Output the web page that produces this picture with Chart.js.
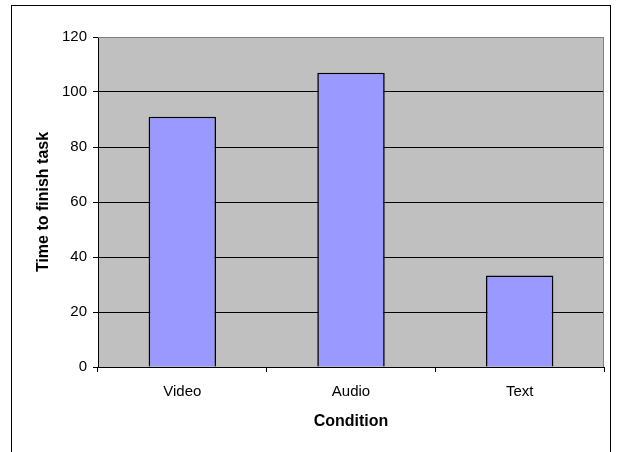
<!DOCTYPE html>
<html>
<head>
<meta charset="utf-8">
<script src="https://cdn.jsdelivr.net/npm/chart.js@4/dist/chart.umd.min.js"></script>
<style>
  html, body { margin: 0; padding: 0; background: #fff; }
  #wrap { width: 617px; height: 452px; position: relative; }
</style>
</head>
<body>
<div id="wrap"><canvas id="c" width="617" height="452"></canvas></div>
<script>
// Mean time to finish the task for each condition
const conditions = ['Video', 'Audio', 'Text'];
const timeToFinish = [91, 107, 33.3];
const yTicks = [0, 20, 40, 60, 80, 100, 120];

const FONT = "'Liberation Sans', Arial, sans-serif";

// Frame around the whole figure plus grey plot background and border
const framePlugin = {
  id: 'frame',
  beforeDraw(chart) {
    const { ctx, chartArea: a } = chart;
    ctx.save();
    ctx.fillStyle = '#ffffff';
    ctx.fillRect(0, 0, chart.width, chart.height);
    ctx.strokeStyle = '#000000';
    ctx.lineWidth = 1;
    ctx.strokeRect(11.5, 5.5, 599, chart.height + 10);
    ctx.fillStyle = '#C0C0C0';
    ctx.fillRect(a.left, a.top, a.right - a.left, a.bottom - a.top);
    ctx.restore();
  },
  beforeDatasetsDraw(chart) {
    const { ctx, chartArea: a } = chart;
    ctx.save();
    ctx.strokeStyle = '#808080';
    ctx.lineWidth = 1;
    ctx.beginPath();
    ctx.moveTo(a.left, a.top + 0.5);
    ctx.lineTo(a.right - 0.5, a.top + 0.5);
    ctx.lineTo(a.right - 0.5, a.bottom);
    ctx.stroke();
    ctx.restore();
  }
};

new Chart(document.getElementById('c'), {
  type: 'bar',
  data: {
    labels: conditions,
    datasets: [{
      data: timeToFinish,
      backgroundColor: '#9999FF',
      borderColor: '#000000',
      borderWidth: 1.6,
      categoryPercentage: 1,
      barPercentage: 0.4
    }]
  },
  options: {
    responsive: false,
    animation: false,
    layout: { padding: { left: 0, right: 13, top: 37, bottom: 0 } },
    plugins: { legend: { display: false }, tooltip: { enabled: false } },
    scales: {
      x: {
        afterFit(s) { s.height = 85; },
        grid: {
          offset: true,
          drawOnChartArea: false,
          drawTicks: true,
          tickLength: 5,
          tickColor: '#000000',
          color: '#000000'
        },
        border: { color: '#000000', width: 1 },
        ticks: { color: '#000000', padding: 11, font: { family: FONT, size: 15 } },
        title: {
          display: true,
          text: 'Condition',
          color: '#000000',
          font: { family: FONT, size: 16, weight: 'bold' },
          padding: { top: 0, bottom: 21 }
        }
      },
      y: {
        min: 0,
        max: 120,
        afterFit(s) { s.width = 98; },
        afterBuildTicks(s) { s.ticks = yTicks.map(v => ({ value: v })); },
        grid: {
          color: (c) => (c.tick && c.tick.value === 120 ? '#808080' : '#000000'),
          tickColor: '#000000',
          tickLength: 5,
          lineWidth: 1
        },
        border: { color: '#000000', width: 1 },
        ticks: { color: '#000000', padding: 6, font: { family: FONT, size: 15 } },
        title: {
          display: true,
          text: 'Time to finish task',
          color: '#000000',
          font: { family: FONT, size: 16, weight: 'bold' },
          padding: { top: 34, bottom: 0 }
        }
      }
    }
  },
  plugins: [framePlugin]
});
</script>
</body>
</html>
